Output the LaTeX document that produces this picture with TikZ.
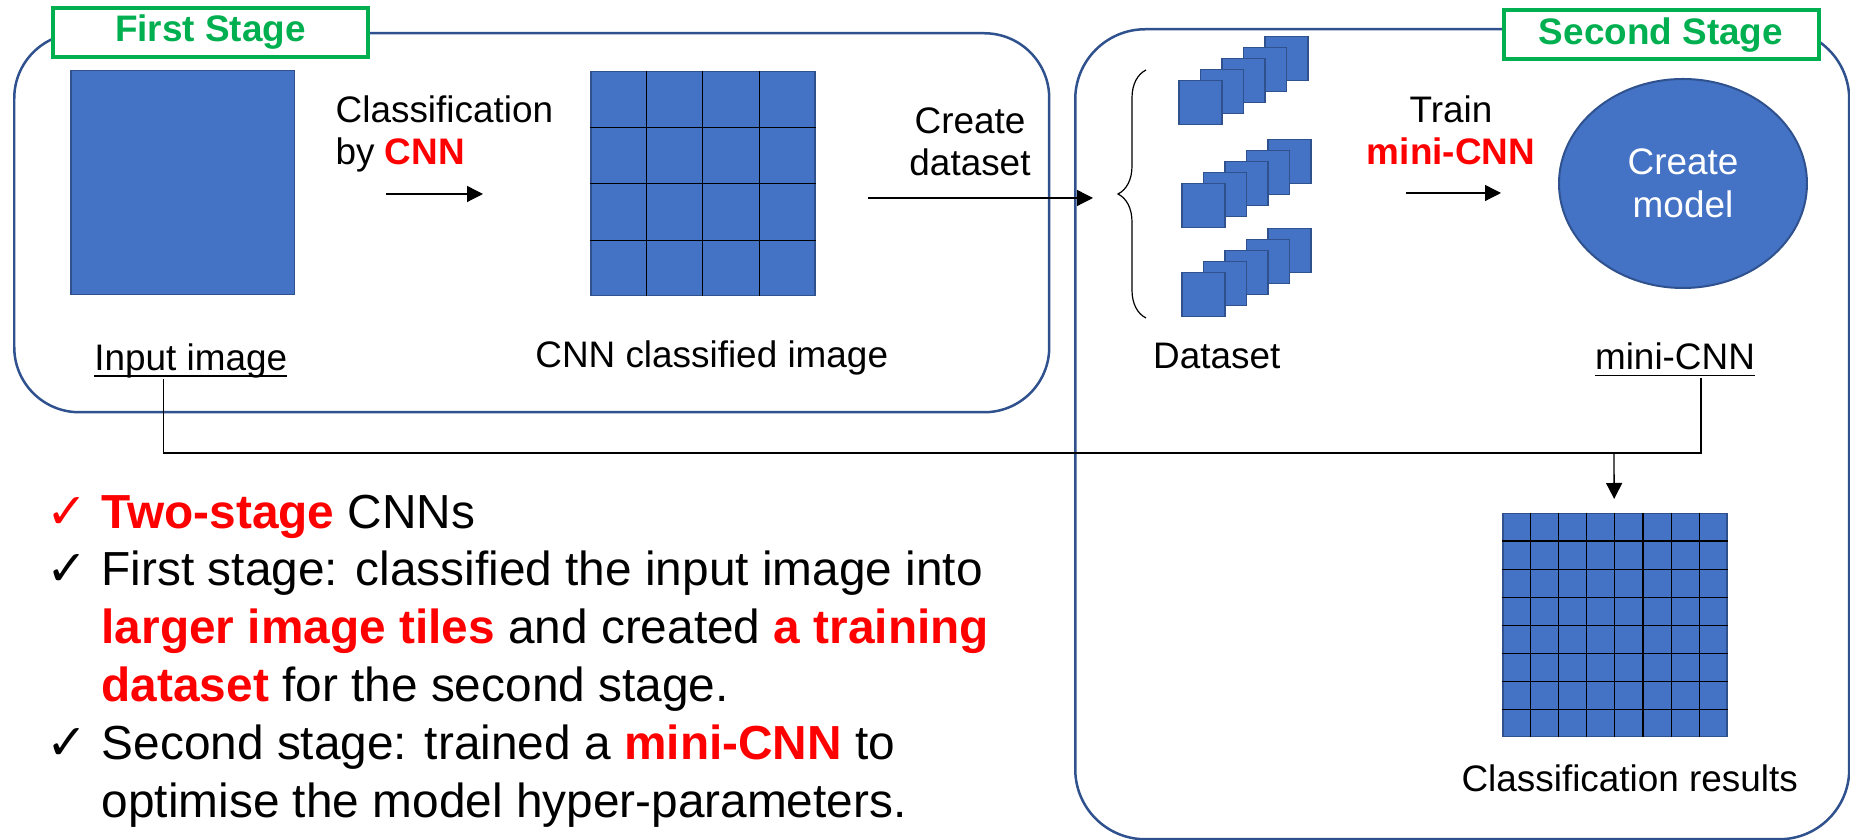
\documentclass[tikz,border=0pt]{standalone}
\usepackage{fontspec}
\setmainfont{Liberation Sans}
\newfontfamily\symfont{DejaVu Sans}
\usepackage{xcolor}
\usepackage{tikz}
\usetikzlibrary{shapes,arrows.meta,positioning,fit,calc,decorations.pathreplacing}

\definecolor{tileblue}{HTML}{4472C4}
\definecolor{tileedge}{HTML}{2F528F}
\definecolor{stagegreen}{HTML}{00B050}
\definecolor{keyred}{HTML}{FF0000}

\newcommand{\keyw}[1]{\textcolor{keyred}{\bfseries #1}}
\newcommand{\tick}[1]{\makebox[5.5mm][l]{\textcolor{#1}{\symfont\fontsize{14}{14}\selectfont ✓}}}
\newcommand{\notick}{\makebox[5.5mm]{}}
\newcommand{\undr}[1]{\setbox0=\hbox{#1}\rlap{\rule[-0.65mm]{\wd0}{0.15mm}}\box0}

\begin{document}
\begin{tikzpicture}[
    x=0.1mm, y=-0.1mm,
    font=\fontsize{10.5}{12.1}\selectfont,
    stagebox/.style={rectangle, draw=tileedge, line width=0.25mm, rounded corners=6.5mm, anchor=north west},
    stagetag/.style={rectangle, draw=stagegreen, fill=white, line width=0.4mm, text=stagegreen, font=\fontsize{10.5}{12.1}\selectfont\bfseries, minimum width=31.5mm, minimum height=4.9mm, inner sep=0pt},
    tile/.style={rectangle, draw=tileedge, fill=tileblue, line width=0.15mm, inner sep=0pt, anchor=north west},
    lbl/.style={inner sep=0pt, text height=2.7mm, text depth=0.8mm},
    note/.style={inner sep=0pt, align=center},
    gridline/.style={line width=0.12mm},
    link/.style={line width=0.13mm},
    arrow/.style={-{Triangle[length=1.6mm, width=1.6mm]}, line width=0.13mm}
]
    \useasboundingbox (0,0) rectangle (1850,840);

    % First stage
    \node[stagebox, minimum width=103.5mm, minimum height=37.9mm] (stage1) at (13,32) {};
    \node[stagetag] (stage1_tag) at (210.5,32.5) {First Stage};

    \node[tile, minimum size=22.4mm] (input) at (70,70) {};
    \node[lbl, below=4.7mm of input, xshift=0.8mm] (input_lbl) {\undr{Input image}};

    \node[note, align=left, anchor=north west] (cls_txt) at (335,95) {Classification\\by \keyw{CNN}};

    \node[tile, minimum size=22.4mm] (cnn_grid) at (590,71) {};
    \foreach \i in {1,2,3} {
        \draw[gridline] ($(cnn_grid.north west)!\i/4!(cnn_grid.north east)$) -- ($(cnn_grid.south west)!\i/4!(cnn_grid.south east)$);
        \draw[gridline] ($(cnn_grid.north west)!\i/4!(cnn_grid.south west)$) -- ($(cnn_grid.north east)!\i/4!(cnn_grid.south east)$);
    }
    \node[lbl, below=4.3mm of cnn_grid, xshift=0.9mm] (cnn_lbl) {CNN classified image};

    \node[note, anchor=north] (ds_txt) at (970,107) {Create\\dataset};

    % Second stage
    \node[stagebox, minimum width=77.4mm, minimum height=81mm, rounded corners=7mm] (stage2) at (1074,28) {};
    \node[stagetag] (stage2_tag) at (1661,35) {Second Stage};

    \foreach \sx/\sy [count=\s] in {1178/80, 1181/183, 1181/272} {
        \foreach \i in {4,3,2,1,0}
            \node[tile, minimum width=4.3mm, minimum height=4.4mm] (set\s_\i) at (\sx+21.5*\i, \sy-11*\i) {};
    }
    \node[fit=(set1_0)(set1_4)(set3_0)(set3_4), inner sep=0pt] (dataset) {};
    \draw[decorate, decoration={brace, amplitude=2.8mm}, line width=0.12mm] (1146,318) -- (1146,70);
    \coordinate (set_in) at (1093,198);
    \node[lbl, below=2.3mm of dataset, xshift=-2.8mm] (dataset_lbl) {Dataset};

    \node[note, anchor=north] (train_txt) at (1451,95) {Train\\\keyw{mini-CNN}};

    \node[ellipse, draw=tileedge, fill=tileblue, line width=0.2mm, minimum width=24.8mm, minimum height=20.9mm, text=white, align=center, inner sep=0pt] (model) at (1683,183.5) {Create\\model};
    \node[lbl, below=5.3mm of model, xshift=-0.8mm] (mini_lbl) {\undr{mini-CNN}};

    \node[tile, minimum width=22.4mm, minimum height=22.3mm] (result) at (1502,513) {};
    \foreach \i in {1,...,7} {
        \draw[gridline] ($(result.north west)!\i/8!(result.north east)$) -- ($(result.south west)!\i/8!(result.south east)$);
        \draw[gridline] ($(result.north west)!\i/8!(result.south west)$) -- ($(result.north east)!\i/8!(result.south east)$);
    }
    \node[lbl, below=2.6mm of result, xshift=1.5mm] (result_lbl) {Classification results};

    % Summary
    \node[note, align=left, anchor=north west, font=\fontsize{13.6}{16.45}\selectfont] (summary) at (46,494) {%
        \tick{keyred}\keyw{Two-stage} CNNs\\
        \tick{black}First stage: classified the input image into\\
        \notick\keyw{larger image tiles} and created \keyw{a training}\\
        \notick\keyw{dataset} for the second stage.\\
        \tick{black}Second stage: trained a \keyw{mini-CNN} to\\
        \notick optimise the model hyper-parameters.};

    % Arrows
    \coordinate (join) at (1614,453);
    \draw[arrow, shorten <=9.1mm, shorten >=10.7mm] (input.east |- 0,194) -- (cnn_grid.west |- 0,194);
    \draw[arrow, shorten <=5.3mm] (cnn_grid.east |- 0,198) -- (set_in);
    \draw[arrow, shorten <=9.4mm, shorten >=5.7mm] (dataset.east |- 0,193) -- (model.west |- 0,193);
    \draw[link] ([xshift=-2.7mm]input_lbl.south) |- (join);
    \draw[link] ([xshift=2.6mm]mini_lbl.south) |- (join);
    \draw[arrow, shorten >=1.4mm] (join) -- (result);

\end{tikzpicture}
\end{document}
